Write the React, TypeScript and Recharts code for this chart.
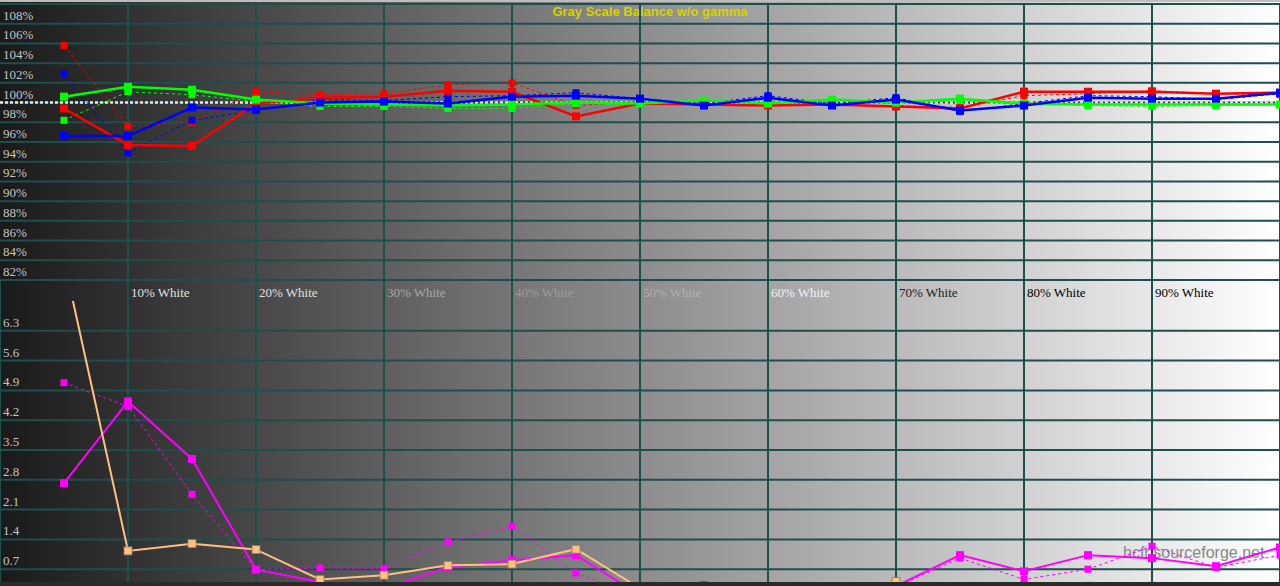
import React from 'react';
import { LineChart, Line, XAxis, YAxis, CartesianGrid, ReferenceLine } from 'recharts';

// measured grey steps (% white)
const STEPS = [5, 10, 15, 20, 25, 30, 35, 40, 45, 50, 55, 60, 65, 70, 75, 80, 85, 90, 95, 100];

// RGB balance, measured (solid) and reference (dashed)
const RED = [99.4, 95.7, 95.6, 99.9, 100.5, 100.6, 101.2, 101.1, 98.6, 99.9, 99.8, 99.7, 99.8, 99.6, 99.4, 101.1, 101.1, 101.1, 100.9, 101.0];
const GREEN = [100.6, 101.6, 101.3, 100.3, 99.9, 99.8, 99.7, 99.8, 100.0, 99.9, 100.2, 99.9, 100.3, 100.0, 100.4, 99.9, 99.8, 99.8, 99.8, 99.8];
const BLUE = [96.6, 96.6, 99.5, 99.3, 100.0, 100.1, 99.9, 100.6, 100.7, 100.4, 99.7, 100.5, 99.7, 100.3, 99.2, 99.7, 100.5, 100.4, 100.4, 101.0];
const RED_REF = [105.8, 97.6, 98.0, 101.1, 100.8, 100.9, 101.8, 102.0, 99.7, 100.1, 99.9, 99.7, 99.7, 99.7, 99.5, 100.7, 100.9, 101.2, 100.9, 100.8];
const GREEN_REF = [98.2, 101.1, 100.8, 100.1, 99.6, 99.6, 99.4, 99.4, 99.9, 99.8, 99.9, 99.8, 100.1, 99.9, 100.2, 99.8, 99.7, 99.6, 99.7, 99.8];
const BLUE_REF = [102.9, 94.9, 98.2, 99.2, 100.3, 100.2, 100.6, 100.7, 101.0, 100.4, 99.9, 100.7, 99.9, 100.5, 99.1, 99.9, 100.7, 100.6, 100.3, 100.9];

// delta E panel
const DELTA_E = [2.72, 4.64, 3.29, 0.69, 0.40, 0.25, 0.75, 0.91, 1.03, 0.09, 0.33, 0.30, 0.15, 0.30, 1.03, 0.65, 1.03, 0.96, 0.77, 1.21];
const DELTA_E_REF = [5.08, 4.52, 2.46, 0.69, 0.73, 0.72, 1.34, 1.71, 0.61, 0.05, 0.30, 0.25, 0.15, 0.28, 0.96, 0.46, 0.70, 1.24, 0.74, 1.03];
const DELTA_L = [7.95, 1.13, 1.30, 1.16, 0.46, 0.56, 0.79, 0.82, 1.17, 0.25, 0.10, 0.10, 0.10, 0.41, 0.10, 0.10, 0.30, 0.30, 0.10, 0.10];

const PCT_TICKS = [82, 84, 86, 88, 90, 92, 94, 96, 98, 100, 102, 104, 106, 108, 110];
const DE_TICKS = [0, 0.7, 1.4, 2.1, 2.8, 3.5, 4.2, 4.9, 5.6, 6.3];
const X_TICKS = [0, 10, 20, 30, 40, 50, 60, 70, 80, 90, 100];
const X_LABELS = ['', '10% White', '20% White', '30% White', '40% White', '50% White', '60% White', '70% White', '80% White', '90% White', ''];

const LABEL_COLORS = ['#e0e0e0', '#e0e0e0', '#e0e0e0', '#a8a8a8', '#9c9c9c', '#b0b0b0', '#f2f2f2', '#202020', '#000000', '#000000', '#000000'];
const GRID = '#1e4e4e';
const SERIF = '"Liberation Serif", "Times New Roman", serif';

const rgbData = STEPS.map((s, i) => ({
  x: s, r: RED[i], g: GREEN[i], b: BLUE[i], rr: RED_REF[i], gr: GREEN_REF[i], br: BLUE_REF[i],
}));
const deData = STEPS.map((s, i) => ({ x: s, de: DELTA_E[i], der: DELTA_E_REF[i], dl: DELTA_L[i] }));

const square = (color: string, size: number, edge?: string) => (props: any) => {
  const { cx, cy, index } = props;
  if (cx == null || cy == null) return <g key={index} />;
  return (
    <rect key={index} x={cx - size / 2} y={cy - size / 2} width={size} height={size} fill={color}
      stroke={edge || 'none'} strokeWidth={edge ? 0.8 : 0} />
  );
};

const PctTick = (props: any) => {
  const { y, payload } = props;
  if (payload.value === 110) return <g />;
  return (
    <text x={3} y={y - 4} fill="#c4c4c4" fontFamily={SERIF} fontSize={13} textAnchor="start">
      {payload.value}%
    </text>
  );
};

const DeTick = (props: any) => {
  const { y, payload } = props;
  if (payload.value === 0) return <g />;
  return (
    <text x={3} y={y - 4} fill="#c4c4c4" fontFamily={SERIF} fontSize={13} textAnchor="start">
      {payload.value}
    </text>
  );
};

const WhiteTick = (props: any) => {
  const { x, payload } = props;
  const idx = Math.round(payload.value / 10);
  return (
    <text x={x + 3} y={17} fill={LABEL_COLORS[idx]} fontFamily={SERIF} fontSize={13} textAnchor="start">
      {X_LABELS[idx]}
    </text>
  );
};

export default function App() {
  return (
    <div
      style={{
        position: 'absolute', left: 0, top: 0, width: 1280, height: 586, overflow: 'hidden',
        background: 'linear-gradient(to right, #1a1a1a, #ffffff)',
      }}
    >
      <div style={{ position: 'absolute', left: 0, top: 0, width: 1280, height: 2, background: '#bdbdbd' }} />
      <div
        style={{
          position: 'absolute', left: 450, top: 4, width: 400, textAlign: 'center',
          fontFamily: '"Liberation Sans", Arial, sans-serif', fontWeight: 'bold', fontSize: 13,
          lineHeight: '15px', color: '#d4d400',
        }}
      >
        Gray Scale Balance w/o gamma
      </div>
      <div
        style={{
          position: 'absolute', left: 1123, top: 544, fontFamily: '"Liberation Sans", Arial, sans-serif',
          fontSize: 16, lineHeight: '18px', color: '#888888',
        }}
      >
        hcfr.sourceforge.net
      </div>

      <div style={{ position: 'absolute', left: 0, top: 0 }}>
        <LineChart width={1280} height={282} data={rgbData} margin={{ top: 4, right: 0, bottom: 2, left: 0 }}>
          <CartesianGrid stroke={GRID} strokeWidth={2} horizontalValues={PCT_TICKS} verticalValues={X_TICKS} />
          <XAxis dataKey="x" type="number" domain={[0, 100]} ticks={X_TICKS} hide />
          <YAxis
            type="number" domain={[82, 110]} ticks={PCT_TICKS} interval={0} mirror
            axisLine={false} tickLine={false} tick={PctTick}
          />
          <ReferenceLine y={100} stroke="#e8e8e8" strokeWidth={2.5} strokeDasharray="3 2" />
          <Line dataKey="rr" stroke="#ff0000" strokeWidth={1} strokeDasharray="3 3" dot={square('#ff0000', 7)} isAnimationActive={false} />
          <Line dataKey="gr" stroke="#00ff00" strokeWidth={1} strokeDasharray="3 3" dot={square('#00ff00', 7)} isAnimationActive={false} />
          <Line dataKey="br" stroke="#0000ff" strokeWidth={1} strokeDasharray="3 3" dot={square('#0000ff', 7)} isAnimationActive={false} />
          <Line dataKey="r" stroke="#ff0000" strokeWidth={2.5} dot={square('#ff0000', 8)} isAnimationActive={false} />
          <Line dataKey="g" stroke="#00ff00" strokeWidth={2.5} dot={square('#00ff00', 8)} isAnimationActive={false} />
          <Line dataKey="b" stroke="#0000ff" strokeWidth={2.5} dot={square('#0000ff', 8)} isAnimationActive={false} />
        </LineChart>
      </div>

      <div style={{ position: 'absolute', left: 0, top: 280 }}>
        <LineChart width={1280} height={319} data={deData} margin={{ top: 0, right: 0, bottom: 0, left: 0 }}>
          <CartesianGrid stroke={GRID} strokeWidth={2} horizontalValues={DE_TICKS} verticalValues={X_TICKS} />
          <XAxis
            dataKey="x" type="number" domain={[0, 100]} ticks={X_TICKS} interval={0} orientation="top" height={21}
            tickSize={21} axisLine={false} tickLine={{ stroke: GRID, strokeWidth: 2 }} tick={WhiteTick}
          />
          <YAxis
            type="number" domain={[0, 7]} ticks={DE_TICKS} interval={0} mirror allowDataOverflow
            axisLine={false} tickLine={false} tick={DeTick}
          />
          <Line dataKey="der" stroke="#ff00ff" strokeWidth={1} strokeDasharray="3 3" dot={square('#ff00ff', 7)} isAnimationActive={false} />
          <Line dataKey="de" stroke="#ff00ff" strokeWidth={2} dot={square('#ff00ff', 8)} isAnimationActive={false} />
          <Line dataKey="dl" stroke="#ffc080" strokeWidth={2} dot={square('#ffc080', 8, '#8a7a6a')} isAnimationActive={false} />
        </LineChart>
      </div>

      <div style={{ position: 'absolute', left: 0, top: 582, width: 1280, height: 4, background: '#2b2b2b' }} />
    </div>
  );
}
